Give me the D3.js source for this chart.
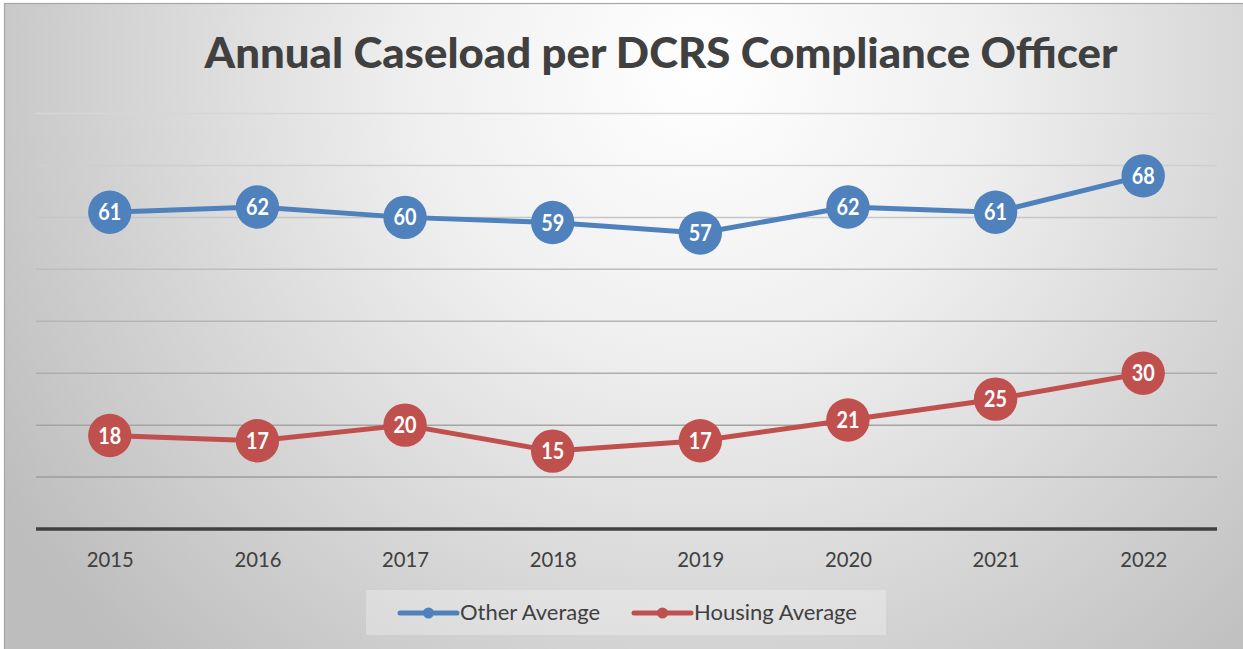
<!DOCTYPE html>
<html>
<head>
<meta charset="utf-8">
<script src="https://cdn.jsdelivr.net/npm/d3@7"></script>
<style>
  html, body { margin: 0; padding: 0; background: #ffffff; overflow: hidden; }
  svg { display: block; }
</style>
</head>
<body>
<svg id="chart" width="1243" height="649"></svg>
<script>
// ---- data ----
const years = ["2015", "2016", "2017", "2018", "2019", "2020", "2021", "2022"];
const otherAverage = [61, 62, 60, 59, 57, 62, 61, 68];
const housingAverage = [18, 17, 20, 15, 17, 21, 25, 30];
const gridValues = [10, 20, 30, 40, 50, 60, 70, 80];
const seriesNames = ["Other Average", "Housing Average"];
const titleText = "Annual Caseload per DCRS Compliance Officer";

const W = 1243, H = 649;
const svg = d3.select("#chart");
const defs = svg.append("defs");

// background radial gradient
const rg = defs.append("radialGradient")
  .attr("id", "bg")
  .attr("gradientUnits", "userSpaceOnUse")
  .attr("cx", 700).attr("cy", 70).attr("r", 820)
  .attr("fx", 700).attr("fy", 70);
rg.append("stop").attr("offset", "0%").attr("stop-color", "#ffffff");
rg.append("stop").attr("offset", "35%").attr("stop-color", "#efefef");
rg.append("stop").attr("offset", "100%").attr("stop-color", "#bdbdbd");

svg.append("rect")
  .attr("x", 4.5).attr("y", 3.5)
  .attr("width", W + 20).attr("height", H + 20)
  .attr("fill", "url(#bg)")
  .attr("stroke", "#a6a6a6").attr("stroke-width", 1.2);

// scales
const x = d3.scalePoint().domain(years).range([36, 1217]).padding(0.5);
const y = d3.scaleLinear().domain([0, 80]).range([529, 113.5]);
const gridColor = d3.scaleLinear().domain([10, 80]).range(["#9c9c9c", "#d6d6d6"]);

// gridlines
svg.append("g").selectAll("line")
  .data(gridValues)
  .join("line")
  .attr("x1", 36).attr("x2", 1217)
  .attr("y1", d => y(d)).attr("y2", d => y(d))
  .attr("stroke", d => gridColor(d))
  .attr("stroke-width", 1.5);

// x axis
const xAxis = svg.append("g")
  .attr("transform", `translate(0,${y(0)})`)
  .call(d3.axisBottom(x).tickSize(0).tickPadding(0));
xAxis.select(".domain")
  .attr("d", `M36,0H1217`)
  .attr("stroke", "#404040").attr("stroke-width", 3.5);
xAxis.selectAll(".tick text")
  .attr("dy", 0)
  .attr("y", 38)
  .attr("fill", "#404040")
  .style("font-family", "Lato, 'Open Sans', sans-serif")
  .style("font-size", "21px")
  .attr("textLength", 47)
  .attr("lengthAdjust", "spacingAndGlyphs");

// title
svg.append("text")
  .attr("x", 661).attr("y", 68)
  .attr("text-anchor", "middle")
  .attr("fill", "#404040")
  .style("font-family", "Lato, 'Open Sans', sans-serif")
  .style("font-weight", "900")
  .style("font-size", "42px")
  .attr("textLength", 913)
  .attr("lengthAdjust", "spacingAndGlyphs")
  .text(titleText);

// series
const series = [
  { name: seriesNames[0], values: otherAverage, color: "#4f81bd" },
  { name: seriesNames[1], values: housingAverage, color: "#c0504d" }
];

const line = d3.line()
  .x((d, i) => x(years[i]))
  .y(d => y(d));

series.forEach(s => {
  const g = svg.append("g");
  g.append("path")
    .attr("d", line(s.values))
    .attr("fill", "none")
    .attr("stroke", s.color)
    .attr("stroke-width", 5)
    .attr("stroke-linejoin", "round")
    .attr("stroke-linecap", "round");
  g.selectAll("circle")
    .data(s.values)
    .join("circle")
    .attr("cx", (d, i) => x(years[i]))
    .attr("cy", d => y(d))
    .attr("r", 21.7)
    .attr("fill", s.color);
  g.selectAll("text")
    .data(s.values)
    .join("text")
    .attr("x", (d, i) => x(years[i]))
    .attr("y", d => y(d) + 8)
    .attr("text-anchor", "middle")
    .attr("fill", "#ffffff")
    .style("font-family", "Lato, 'Open Sans', sans-serif")
    .style("font-weight", "bold")
    .style("font-size", "22px")
    .attr("textLength", 23)
    .attr("lengthAdjust", "spacingAndGlyphs")
    .text(d => d);
});

// legend
const legend = svg.append("g");
legend.append("rect")
  .attr("x", 366).attr("y", 590)
  .attr("width", 520).attr("height", 45)
  .attr("fill", "#ffffff").attr("fill-opacity", 0.28);

const legendItems = [
  { name: seriesNames[0], color: "#4f81bd", x0: 400, tx: 460, tw: 140 },
  { name: seriesNames[1], color: "#c0504d", x0: 634, tx: 694, tw: 163 }
];
legendItems.forEach(it => {
  legend.append("line")
    .attr("x1", it.x0).attr("x2", it.x0 + 57)
    .attr("y1", 613).attr("y2", 613)
    .attr("stroke", it.color).attr("stroke-width", 5)
    .attr("stroke-linecap", "round");
  legend.append("circle")
    .attr("cx", it.x0 + 28.5).attr("cy", 613).attr("r", 5.5)
    .attr("fill", it.color);
  legend.append("text")
    .attr("x", it.tx).attr("y", 620)
    .attr("fill", "#404040")
    .style("font-family", "Lato, 'Open Sans', sans-serif")
    .style("font-size", "21px")
    .attr("textLength", it.tw)
    .attr("lengthAdjust", "spacingAndGlyphs")
    .text(it.name);
});
</script>
</body>
</html>
